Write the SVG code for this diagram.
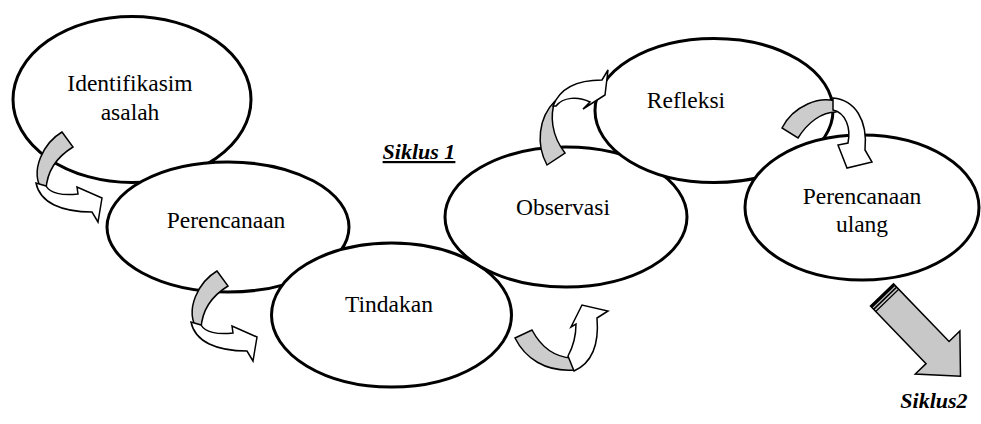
<svg xmlns="http://www.w3.org/2000/svg" width="981" height="424" viewBox="0 0 981 424">
<style>
.node ellipse{fill:#fff;stroke:#000;stroke-width:3}
.lbl{font-family:"Liberation Serif","Times New Roman",serif;font-size:23.5px;fill:#000;text-anchor:middle}
.cyc{font-family:"Liberation Serif","Times New Roman",serif;font-size:22px;font-style:italic;font-weight:bold;fill:#000;text-anchor:middle}
.back{fill:#cccccc;stroke:#000;stroke-width:1.5;stroke-linejoin:miter}
.front{fill:#fff;stroke:#000;stroke-width:1.5;stroke-linejoin:miter}
</style>
<defs>
<g id="curl">
<path class="back" d="M62,132 L73,147 C60,155 47,168 46,190 L43,192 C28,170 45,142 62,132 Z"/>
<path class="front" d="M36,183 C40,203 62,212 92,212 L98,222 L102,198 L77,187 L78,194 C62,196 50,193 46,186 Z"/>
</g>
</defs>
<rect width="981" height="424" fill="#fff"/>
<g id="n1" class="node"><ellipse cx="132" cy="99.5" rx="119" ry="83"/><text class="lbl" x="130" y="91">Identifikasim</text><text class="lbl" x="130" y="120">asalah</text></g>
<g id="n2" class="node"><ellipse cx="228" cy="227" rx="121" ry="65"/><text class="lbl" x="226" y="228">Perencanaan</text></g>
<g id="n3" class="node"><ellipse cx="391.5" cy="315" rx="120" ry="72"/><text class="lbl" x="389" y="312">Tindakan</text></g>
<g id="n4" class="node"><ellipse cx="566" cy="217" rx="121" ry="70"/><text class="lbl" x="563" y="215">Observasi</text></g>
<g id="n5" class="node"><ellipse cx="714" cy="110.5" rx="119" ry="72"/><text class="lbl" x="686" y="108">Refleksi</text></g>
<g id="n6" class="node"><ellipse cx="862" cy="207.5" rx="117" ry="72.5"/><text class="lbl" x="862" y="204">Perencanaan</text><text class="lbl" x="862" y="232">ulang</text></g>
<g id="connectors">
<use href="#curl"/>
<use href="#curl" transform="translate(155,139)"/>
<g id="a3">
<path class="back" d="M515,338 L532,330 C540,345 553,357 572,358 L574,370 C545,372 525,358 515,338 Z"/>
<path class="front" d="M568,356 C574,345 576,335 576,324 L571,327 L582,305 L608,311 L597,318 C599,342 594,362 574,371 Z"/>
</g>
<g id="a4">
<path class="back" d="M547,165 C536,145 538,118 555,101 C550,115 551,135 565,153 Z"/>
<path class="front" d="M553,106 C560,88 578,80 602,80 L608,70 L605,95 L583,109 L590,102 C578,96 563,97 556,106 Z"/>
</g>
<g id="a5">
<path class="back" d="M782,128 C792,108 820,92 843,104 L836,112 C822,112 808,122 798,138 Z"/>
<path class="front" d="M833,98 C855,100 868,120 865,150 L872,162 L847,168 L838,145 L848,143 C851,128 846,113 833,110 Z"/>
</g>
<g id="next" transform="translate(882,295) rotate(46)">
<polygon points="0,-16 80,-16 80,-31 113,0 80,31 80,16 0,16" fill="#c8c8c8" stroke="#000" stroke-width="1.5"/>
<rect x="0" y="-16" width="2.5" height="32" fill="#000"/>
<line x1="4.5" y1="-16" x2="4.5" y2="16" stroke="#000" stroke-width="1.5"/>
<line x1="7.5" y1="-16" x2="7.5" y2="16" stroke="#000" stroke-width="1.2"/>
</g>
</g>
<text class="cyc" x="419" y="159" text-decoration="underline">Siklus 1</text>
<text class="cyc" x="934" y="408">Siklus2</text>
</svg>
